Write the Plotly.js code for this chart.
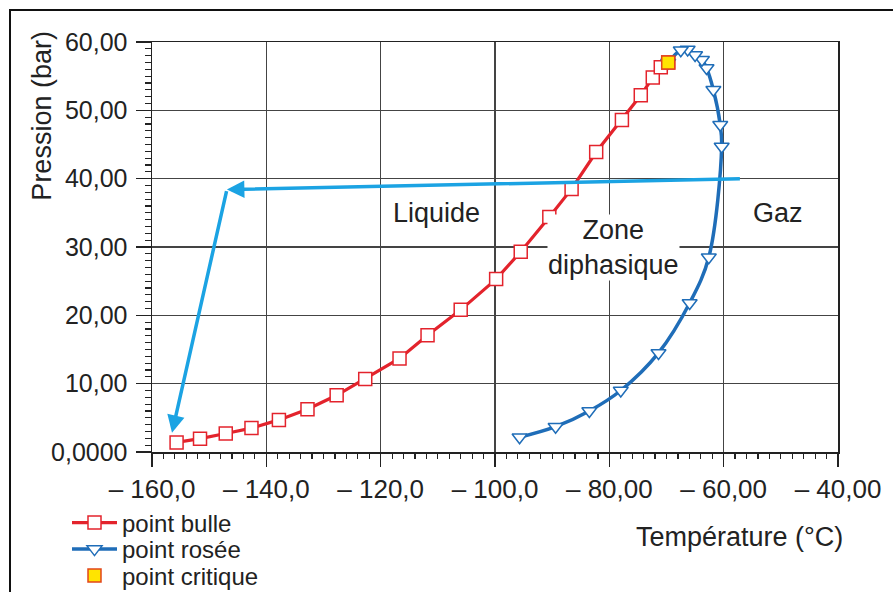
<!DOCTYPE html>
<html>
<head>
<meta charset="utf-8">
<script src="https://cdn.plot.ly/plotly-3.0.1.min.js"></script>
<style>
html,body{margin:0;padding:0;background:#fff;overflow:hidden;}
#chart{width:893px;height:592px;position:absolute;left:0;top:0;}
#frame{position:absolute;left:9px;top:9px;width:900px;height:600px;border:2px solid #111;pointer-events:none;}
</style>
</head>
<body>
<div id="chart"></div>
<div id="frame"></div>
<script>
// Bubble point curve (point bulle)
const bulleT = [-155.7, -151.6, -147.1, -142.6, -137.8, -132.8, -127.7, -122.7, -116.7, -111.8, -106.0, -99.8, -95.5, -90.5, -86.6, -82.3, -77.8, -74.5, -72.4, -71.0, -69.7];
const bulleP = [1.4, 1.95, 2.7, 3.5, 4.7, 6.25, 8.3, 10.7, 13.7, 17.1, 20.8, 25.3, 29.3, 34.4, 38.5, 43.9, 48.6, 52.2, 54.8, 56.3, 57.0];
// Dew point curve (point rosée)
const roseeT = [-95.7, -89.4, -83.5, -78.0, -71.4, -65.95, -62.6, -60.35, -60.6, -61.8, -63.0, -63.8, -65.0, -66.3, -67.5, -69.7];
const roseeP = [2.15, 3.7, 6.0, 9.0, 14.5, 21.8, 28.5, 44.7, 47.9, 53.0, 56.2, 57.4, 58.1, 58.9, 58.8, 57.0];
// Critical point
const critT = [-69.7];
const critP = [57.0];
// Light blue path (arrows)
const pathT = [-56.9, -146.9, -156.5];
const pathP = [40.0, 38.4, 2.8];
// Ticks
const xTickVals = [-160, -140, -120, -100, -80, -60, -40];
const xTickText = ['\u2013 160,0', '\u2013 140,0', '\u2013 120,0', '\u2013 100,0', '\u2013 80,00', '\u2013 60,00', '\u2013 40,00'];
const yTickVals = [0, 10, 20, 30, 40, 50, 60];
const yTickText = ['0,0000', '10,00', '20,00', '30,00', '40,00', '50,00', '60,00'];
// Labels
const zoneLabels = [
  {text: 'Liquide', t: -110.3, p: 35.0},
  {text: 'Zone<br>diphasique', t: -79.2, p: 30.0},
  {text: 'Gaz', t: -50.5, p: 35.0}
];

const FONT = 'Liberation Sans, Arial, Helvetica, sans-serif';
const RED = '#e3232c';
const BLUE = '#1f6db8';
const LBLUE = '#1ba3e3';
const LEG_FONT = {family: FONT, size: 24, color: '#222'};

const traces = [
  {
    x: bulleT, y: bulleP, name: 'point bulle', type: 'scatter', mode: 'lines+markers', legend: 'legend',
    line: {color: RED, width: 3.2},
    marker: {symbol: 'square', size: 13, color: '#ffffff', line: {color: RED, width: 1.5}}
  },
  {
    x: roseeT, y: roseeP, name: 'point rosée', type: 'scatter', mode: 'lines+markers', legend: 'legend2',
    line: {color: BLUE, width: 3.5, shape: 'spline', smoothing: 1},
    marker: {symbol: 'triangle-down', size: 13, color: '#ffffff', line: {color: BLUE, width: 1.5}}
  },
  {
    x: critT, y: critP, name: 'point critique', type: 'scatter', mode: 'markers', legend: 'legend3',
    marker: {symbol: 'square', size: 13, color: '#ffe400', line: {color: '#e2461a', width: 1.5}}
  }
];

const annotations = [];
zoneLabels.forEach(function(z){
  annotations.push({
    x: z.t, y: z.p, xref: 'x', yref: 'y', text: z.text, showarrow: false,
    font: {family: FONT, size: 27, color: '#222'}, borderpad: 0,
    bgcolor: z.text.indexOf('Zone') === 0 ? '#ffffff' : 'rgba(0,0,0,0)'
  });
});
for (let i = 1; i < pathT.length; i++) {
  annotations.push({
    x: pathT[i], y: pathP[i], ax: pathT[i-1], ay: pathP[i-1],
    xref: 'x', yref: 'y', axref: 'x', ayref: 'y',
    text: '', showarrow: true, arrowhead: 2, arrowsize: 1.0, arrowwidth: 3.5,
    arrowcolor: LBLUE, standoff: 0
  });
}
annotations.push({
  xref: 'paper', yref: 'paper', x: -0.160, y: 0.821, xanchor: 'center', yanchor: 'middle',
  text: 'Pression (bar)',
  textangle: -90, showarrow: false, font: {family: FONT, size: 27, color: '#222'}
});
annotations.push({
  xref: 'paper', yref: 'paper', x: 0.857, y: -0.207, xanchor: 'center', yanchor: 'middle',
  text: 'Température (°C)',
  showarrow: false, font: {family: FONT, size: 27, color: '#222'}
});

function legendAt(py) {
  return {
    xref: 'paper', yref: 'container',
    x: (67 - 152) / 686, y: 1 - py / 592, xanchor: 'left', yanchor: 'middle',
    font: LEG_FONT, bgcolor: 'rgba(0,0,0,0)', itemwidth: 45
  };
}

const layout = {
  width: 893, height: 592,
  margin: {l: 152, r: 55, t: 42, b: 140},
  paper_bgcolor: '#ffffff', plot_bgcolor: '#ffffff',
  font: {family: FONT, color: '#222'},
  showlegend: true,
  legend: legendAt(523),
  legend2: legendAt(549.5),
  legend3: legendAt(576),
  xaxis: {
    range: [-160, -40], tickvals: xTickVals, ticktext: xTickText,
    showgrid: true, gridcolor: '#444', gridwidth: 1.3, zeroline: false,
    showline: true, linecolor: '#222', linewidth: 1.5, mirror: true,
    ticks: 'outside', ticklen: 13, tickwidth: 1.3, tickcolor: '#222',
    tickfont: {family: FONT, size: 26, color: '#222'},
    minor: {dtick: 2, ticks: 'outside', ticklen: 5, tickwidth: 1.2, tickcolor: '#222', showgrid: false}
  },
  yaxis: {
    range: [0, 60], tickvals: yTickVals, ticktext: yTickText,
    showgrid: true, gridcolor: '#444', gridwidth: 1.3, zeroline: false,
    showline: true, linecolor: '#222', linewidth: 1.5, mirror: true,
    ticks: 'outside', ticklen: 15, tickwidth: 1.3, tickcolor: '#222',
    ticklabelstandoff: 3,
    tickfont: {family: FONT, size: 25, color: '#222'},
    minor: {dtick: 1, ticks: 'outside', ticklen: 6, tickwidth: 1.2, tickcolor: '#222', showgrid: false}
  },
  annotations: annotations
};

Plotly.newPlot('chart', traces, layout, {staticPlot: true});
</script>
</body>
</html>
